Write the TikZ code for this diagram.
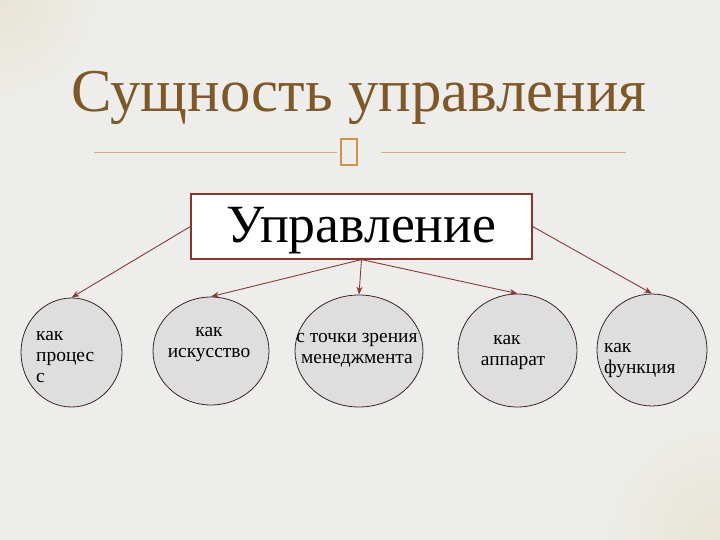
\documentclass[tikz,border=0pt]{standalone}
\usepackage{fontspec}
\setmainfont{Liberation Serif}
\usetikzlibrary{shapes.geometric}
\usetikzlibrary{arrows.meta}
\definecolor{bgcol}{RGB}{237,237,235}
\definecolor{glowcol}{RGB}{232,229,212}
\definecolor{titlecol}{RGB}{127,88,38}
\definecolor{rulecol}{RGB}{214,172,112}
\definecolor{glyphcol}{RGB}{206,146,72}
\definecolor{boxcol}{RGB}{138,52,42}
\definecolor{edgecol}{RGB}{140,56,52}
\definecolor{circfill}{RGB}{222,222,222}
\definecolor{circline}{RGB}{60,34,34}
\tikzset{
    mycircle/.style = {ellipse, draw=circline, line width=0.8pt, fill=circfill, inner sep=0pt},
    mybox/.style = {rectangle, draw=boxcol, line width=1.2pt, fill=white, minimum width=341bp, minimum height=65bp, text height=38bp, text depth=5bp, font=\fontsize{54}{58}\selectfont},
    mytext/.style = {font=\fontsize{19.5}{21}\selectfont, text=black, inner sep=0pt, align=left},
    mytextc/.style = {font=\fontsize{19.5}{21}\selectfont, text=black, inner sep=0pt, align=center},
    edger/.style = {-{Stealth[length=8pt,width=6pt]}, line width=0.9pt, edgecol},
    myrule/.style = {rulecol, line width=0.9pt}
}

\begin{document}
\begin{tikzpicture}[x=1bp,y=-1bp]
\useasboundingbox (0,0) rectangle (720,540);
\fill[bgcol] (0,0) rectangle (720,540);
\begin{scope}
\clip (0,0) rectangle (720,540);
\shade[inner color=glowcol, outer color=bgcol] (0,0) circle (110);
\shade[inner color=glowcol, outer color=bgcol] (720,540) circle (130);
\end{scope}
% title
\node[text=titlecol, font=\fontsize{61}{64}\selectfont, anchor=base, inner sep=0pt] (title) at (359,112) {Сущность управления};
\draw[myrule] (94,152) -- (337,152);
\draw[myrule] (381,152) -- (626,152);
\draw[glyphcol, line width=1.4pt] (341,139) rectangle (357,165);
% main box
\node[mybox] (upr) at (361.5,226.5) {Управление};
% circles
\node[mycircle, minimum width=101bp, minimum height=109bp] (c1) at (71.5,352.5) {};
\node[mycircle, minimum width=116bp, minimum height=108bp] (c2) at (211,351) {};
\node[mycircle, minimum width=128bp, minimum height=112bp] (c3) at (359,351) {};
\node[mycircle, minimum width=119bp, minimum height=113bp] (c4) at (517.5,350.5) {};
\node[mycircle, minimum width=110bp, minimum height=112bp] (c5) at (652,350) {};
% texts (base = last line)
\node[mytext, anchor=base west] (t1) at (36,382) {как\\процес\\с};
\node[mytextc, anchor=base] (t2) at (209,357) {как\\искусство};
\node[mytextc, anchor=base] (t3) at (357,363) {с точки зрения\\менеджмента};
\node[mytextc, anchor=base] (t4) at (513,365) {\hspace*{-12bp}как\\аппарат};
\node[mytext, anchor=base west] (t5) at (604,373) {как\\функция};
% arrows
\draw[edger] (upr.west) -- (c1.north);
\draw[edger] (upr.south) -- (c2.north);
\draw[edger] (upr.south) -- (c3.north);
\draw[edger] (upr.south) -- (c4.north);
\draw[edger] (upr.east) -- (c5.north);
\end{tikzpicture}
\end{document}
